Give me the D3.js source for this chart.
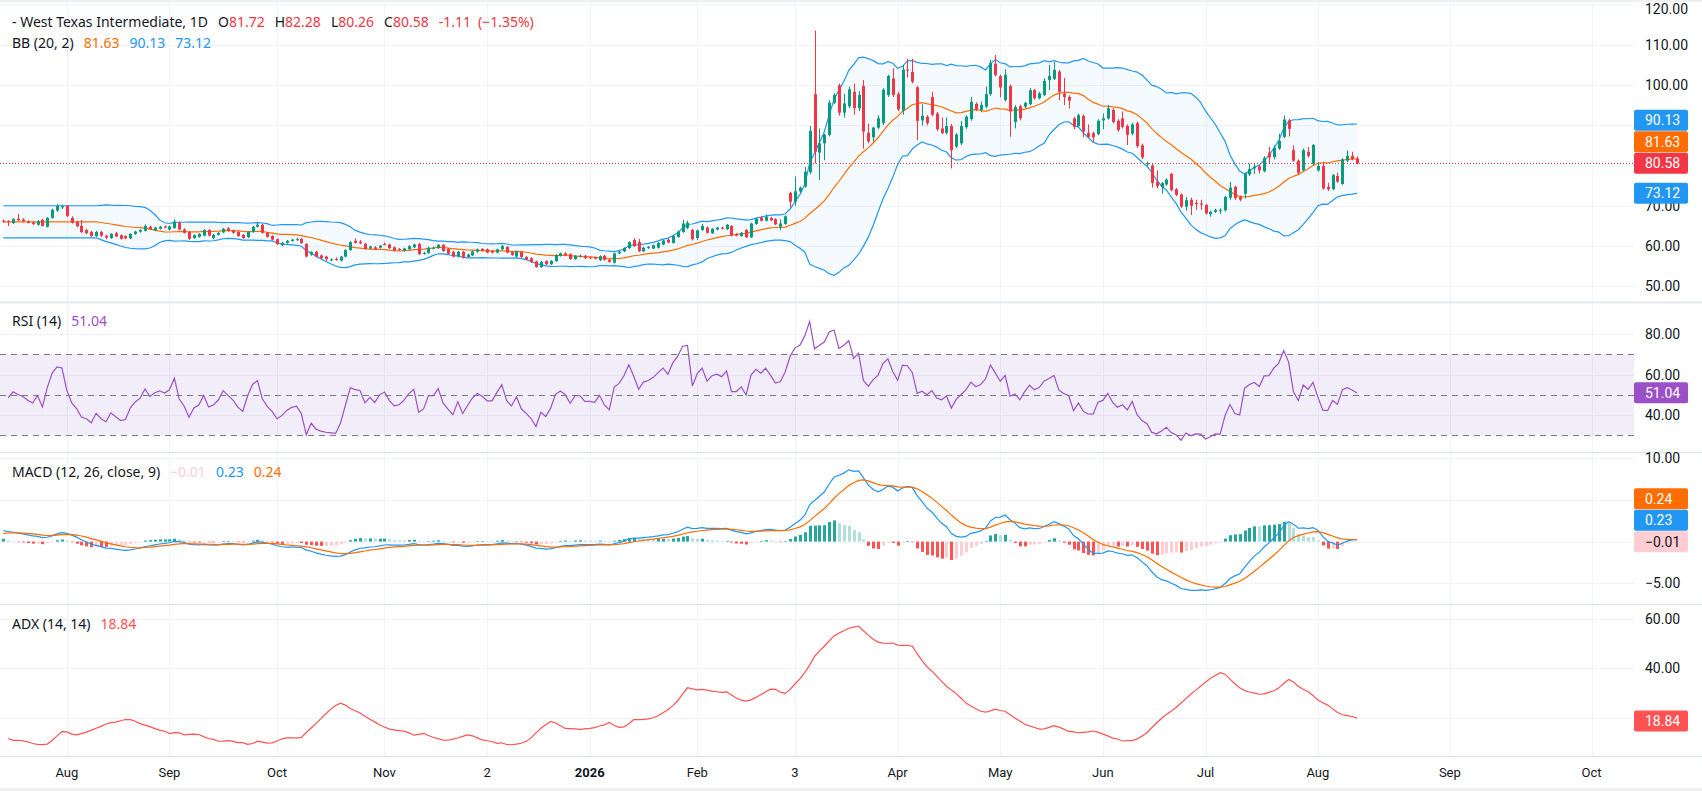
<!DOCTYPE html>
<html>
<head>
<meta charset="utf-8">
<script src="https://cdn.jsdelivr.net/npm/d3@7"></script>
<style>
  html, body { margin: 0; padding: 0; background: #fff; }
  svg { display: block; font-family: Roboto, "Noto Sans", sans-serif; }
  .legend { font-family: "Noto Sans", Roboto, sans-serif; }
</style>
</head>
<body>
<svg id="chart" width="1702" height="791"></svg>
<script>
// ---- daily bars (index 0 = first visible bar) ----
const opens = [
  66.3,66.2,65.7,66.8,66.6,66.1,65.9,65.3,66.5,64.8,
  67.0,68.8,69.6,70.0,67.0,66.0,65.0,64.0,63.5,62.5,
  63.5,62.6,62.0,63.2,62.7,62.5,61.9,63.0,63.6,63.8,
  64.8,63.9,64.3,64.9,64.1,64.5,65.8,64.1,63.5,62.0,
  62.3,62.6,64.0,62.0,62.8,63.4,64.4,63.9,63.5,62.8,
  62.2,63.5,64.8,65.3,63.3,62.5,61.7,60.2,60.8,61.3,
  61.6,61.8,60.5,57.9,58.6,57.7,57.4,56.5,56.8,56.4,
  57.4,59.0,61.3,61.1,60.6,59.4,59.7,59.6,60.5,60.4,
  59.7,59.3,58.8,59.2,59.7,60.5,58.1,58.3,59.4,59.5,
  60.3,59.3,58.6,57.4,58.6,57.3,57.7,58.6,59.3,59.2,
  58.8,58.4,59.2,59.8,58.5,57.4,58.5,57.3,57.0,56.2,
  54.8,56.3,55.5,56.3,57.6,58.2,58.0,56.8,57.4,57.6,
  57.2,57.2,56.5,57.6,56.6,55.9,58.2,58.7,59.5,61.5,
  61.0,58.7,59.5,59.4,59.6,60.4,61.6,60.8,62.3,63.5,
  64.5,64.0,62.0,64.0,64.6,63.2,64.1,64.6,64.2,65.0,
  63.0,62.5,64.0,62.2,65.5,67.1,66.3,67.0,66.7,64.8,
  65.5,73.2,71.0,73.6,74.8,78.4,97.7,83.2,85.5,87.6,
  95.6,99.9,93.1,94.7,98.3,94.2,99.7,88.1,87.0,89.4,
  90.5,97.5,101.6,97.7,93.6,103.8,103.2,99.4,91.2,92.1,
  97.0,92.9,89.2,88.1,89.8,84.7,85.5,89.5,91.5,95.3,
  93.8,94.6,97.7,105.3,102.2,96.3,99.7,90.8,94.7,94.6,
  95.2,98.7,96.7,97.5,101.2,101.5,103.3,97.8,97.0,91.7,
  89.8,92.3,88.1,88.0,87.8,91.2,91.7,93.8,91.1,91.7,
  89.8,87.9,90.5,85.0,80.3,80.0,76.0,74.6,75.3,77.9,
  74.1,72.8,69.8,71.5,70.7,70.6,70.2,67.9,68.5,68.8,
  68.9,72.0,74.7,72.2,73.0,77.8,79.3,79.8,78.6,83.2,
  82.1,84.2,87.1,91.2,83.8,81.2,78.8,83.4,80.4,78.8,
  79.9,74.7,74.1,77.4,75.4,81.2,82.4,81.72
];
const highs = [
  66.6,66.4,66.9,68.0,66.9,66.4,66.1,66.5,66.8,67.2,
  69.3,70.4,70.3,70.2,67.4,66.3,66.5,64.3,63.8,63.8,
  63.8,62.8,63.2,63.5,62.9,62.7,63.2,63.8,64.2,65.4,
  65.1,64.8,65.0,65.1,65.1,66.6,66.1,64.4,63.7,62.9,
  63.2,64.2,64.2,63.0,63.5,64.5,64.7,64.1,63.7,63.0,
  63.7,65.0,66.0,65.5,63.5,62.7,61.9,61.0,61.5,61.8,
  62.1,62.0,60.7,58.7,58.8,57.9,57.6,57.0,57.2,57.6,
  59.2,61.2,61.9,61.5,60.8,60.1,60.0,60.3,60.9,60.6,
  59.9,59.5,59.6,60.2,60.6,60.8,58.6,59.8,59.9,60.5,
  60.5,59.5,58.8,58.8,58.8,58.1,58.9,59.4,59.5,59.4,
  59.0,59.4,60.3,60.0,58.7,58.9,58.7,57.5,57.2,56.4,
  56.3,56.5,56.5,58.0,58.4,58.5,58.2,57.8,57.9,57.8,
  57.4,57.4,57.7,57.8,56.8,58.4,58.8,59.7,61.2,62.0,
  61.8,59.8,60.0,60.4,61.0,61.6,61.9,62.8,63.8,66.5,
  66.3,64.3,64.1,65.5,64.9,64.5,64.8,64.8,65.5,65.2,
  63.2,63.5,64.2,65.8,67.0,67.4,67.8,67.2,66.9,66.6,
  67.6,73.5,77.3,74.8,79.6,89.8,113.5,89.2,87.9,96.2,
  98.0,100.3,97.8,99.6,100.3,98.5,101.2,90.4,89.6,92.5,
  99.2,102.5,104.1,98.3,104.9,106.5,106.5,99.8,95.2,92.5,
  98.3,93.3,91.9,91.9,90.3,88.0,91.0,92.5,97.0,95.7,
  95.9,99.6,106.2,107.4,102.6,103.9,100.1,95.0,95.1,95.8,
  99.2,99.0,98.3,101.6,104.9,105.7,103.7,101.7,97.4,92.1,
  92.9,92.7,90.2,88.4,91.5,92.9,95.0,94.2,91.5,93.4,
  90.2,90.6,90.9,85.4,81.0,80.6,78.8,75.9,76.8,78.2,
  74.4,73.1,72.2,72.0,71.5,71.5,70.5,68.8,69.3,69.4,
  72.5,75.9,75.0,72.5,78.3,80.5,80.7,80.1,82.3,84.6,
  85.0,87.9,92.4,91.6,85.0,81.5,84.2,84.6,85.3,80.8,
  80.9,75.7,77.9,78.2,81.8,83.7,83.4,82.28
];
const lows = [
  65.8,65.0,65.5,66.2,65.9,65.6,65.2,65.1,64.9,64.6,
  66.8,68.5,69.2,67.2,65.6,64.7,63.2,62.9,62.3,62.3,
  62.3,61.7,61.8,62.2,61.6,61.7,61.7,62.8,63.3,63.6,
  64.0,63.7,64.1,64.4,63.9,64.3,63.9,63.1,61.5,61.8,
  62.1,62.4,62.4,61.7,62.6,63.2,63.6,63.1,62.3,61.8,
  62.0,63.3,64.6,63.1,62.1,61.4,60.3,60.0,60.6,61.1,
  61.3,60.6,57.2,57.6,57.2,56.8,56.2,56.3,56.4,56.2,
  57.2,58.8,60.6,60.5,59.1,59.2,59.1,59.4,60.2,59.3,
  58.7,58.8,58.6,59.0,59.5,57.8,57.9,58.1,59.2,59.3,
  58.6,57.9,57.2,57.2,56.9,57.1,57.5,58.4,58.7,58.2,
  58.2,58.2,59.0,58.2,57.6,57.2,57.1,56.5,55.8,54.6,
  54.6,55.3,55.3,56.1,57.4,57.6,56.6,56.6,57.2,56.8,
  56.8,56.7,56.3,56.4,55.9,55.7,58.0,58.5,59.3,59.8,
  58.5,58.5,59.3,59.2,59.4,60.2,60.7,60.6,62.1,63.3,
  64.2,61.4,61.5,63.8,63.1,63.0,63.9,64.1,64.0,62.4,
  62.4,62.3,62.0,62.0,65.3,66.1,66.1,66.2,65.2,64.0,
  65.3,69.5,70.0,73.2,74.5,77.8,80.5,76.4,81.3,87.2,
  95.2,92.4,91.9,94.2,92.6,93.5,84.2,85.5,85.9,89.0,
  90.0,97.0,97.0,93.5,92.6,101.8,100.4,86.3,89.9,90.0,
  92.2,88.6,87.8,87.7,79.3,84.3,85.1,89.1,91.1,93.5,
  93.2,94.2,97.3,102.1,96.9,95.9,87.1,89.2,91.2,94.2,
  94.9,96.3,96.4,97.2,98.7,101.2,96.2,95.0,94.1,89.0,
  89.5,87.0,86.8,85.6,87.5,89.0,91.4,90.4,88.4,89.2,
  85.1,87.5,84.4,81.6,79.7,74.5,74.3,73.0,75.0,73.6,
  72.4,69.5,68.8,67.7,69.0,69.0,67.8,67.3,68.2,68.0,
  68.6,71.5,71.4,71.1,71.8,77.4,77.9,78.0,78.3,80.6,
  81.5,83.9,86.8,87.2,80.9,77.7,78.5,82.0,80.0,78.5,
  74.0,73.7,73.9,75.7,75.2,80.8,81.3,80.26
];
const closes = [
  66.1,66.0,66.7,66.4,66.2,65.8,65.5,66.2,65.0,67.0,
  69.0,70.0,69.9,67.5,65.8,64.9,63.5,63.2,62.5,63.5,
  62.6,62.1,63.0,62.4,61.8,61.9,63.0,63.6,64.0,65.0,
  64.2,64.6,64.8,64.6,64.9,66.1,64.1,63.3,61.8,62.7,
  63.0,64.0,62.6,62.8,63.3,64.3,63.8,63.3,62.5,62.0,
  63.5,64.8,65.3,63.3,62.3,61.6,60.5,60.8,61.3,61.6,
  61.7,60.8,57.4,58.5,57.4,57.0,56.8,56.7,56.6,57.4,
  59.0,61.0,60.8,60.7,59.3,59.9,59.3,60.1,60.4,59.5,
  58.9,59.0,59.4,60.0,60.4,58.0,58.3,59.6,59.6,60.3,
  58.8,58.1,57.4,58.6,57.1,57.9,58.7,59.2,58.9,58.4,
  58.4,59.2,60.0,58.4,57.8,58.7,57.3,56.7,56.0,54.8,
  56.1,55.5,56.3,57.8,58.2,57.8,56.8,57.6,57.6,57.0,
  57.0,56.9,57.5,56.6,56.1,58.2,58.6,59.5,61.0,60.0,
  58.7,59.6,59.8,60.2,60.8,61.4,60.9,62.5,63.6,65.6,
  65.8,61.7,63.9,65.0,63.3,64.3,64.6,64.3,65.3,62.6,
  62.6,63.3,62.2,65.6,66.8,66.3,67.3,66.4,65.4,65.6,
  67.4,71.0,73.6,74.5,78.4,88.6,83.4,85.5,87.6,95.6,
  97.5,93.1,95.4,98.9,94.2,97.5,88.4,86.0,89.4,91.7,
  98.8,102.2,97.5,93.9,103.8,103.6,100.8,91.1,92.3,90.5,
  92.6,89.0,88.1,89.8,83.8,87.7,89.8,92.1,95.8,93.9,
  95.0,97.7,105.4,102.5,99.4,102.5,93.4,94.5,91.7,95.5,
  98.7,96.7,97.9,101.0,102.2,103.7,98.3,97.0,96.1,89.6,
  92.5,88.4,87.1,87.0,91.1,91.7,94.2,90.8,88.8,89.6,
  87.6,90.2,84.8,82.0,80.6,75.7,74.9,75.6,76.5,73.9,
  72.7,69.8,71.4,70.0,70.4,70.3,68.1,68.5,69.0,68.9,
  72.2,74.5,71.9,71.5,78.0,79.1,79.7,78.8,81.9,82.0,
  84.4,86.1,91.4,89.1,81.2,78.2,83.8,82.4,85.1,79.9,
  74.3,74.1,77.6,76.0,81.5,82.4,81.6,80.58
];

// time axis: bar index of each month label (future months continue the spacing)
const monthTicks  = [13, 34, 56, 78, 99, 120, 142, 162, 183, 204, 225, 246, 269, 296, 325];
const monthLabels = ["Aug", "Sep", "Oct", "Nov", "2", "2026", "Feb", "3", "Apr", "May", "Jun", "Jul", "Aug", "Sep", "Oct"];

// value axes
const priceTicks = [120, 110, 100, 90, 80, 70, 60, 50];
const rsiTicks = [80, 60, 40];
const rsiLevels = [70, 50, 30];
const macdTicks = [10, 5, 0, -5];
const adxTicks = [60, 40, 20];

// last values as printed in the legends
const lastOHLC = [81.72, 82.28, 80.26, 80.58];
const lastChange = ["-1.11", "(\u22121.35%)"];
const bbLast = [81.63, 90.13, 73.12];      // basis, upper, lower
const rsiLast = 51.04;
const macdLast = [-0.01, 0.23, 0.24];      // histogram, macd, signal
const adxLast = 18.84;

// ---- colours ----
const UP = '#089981', DOWN = '#F23645', TEXT = '#131722';
const BLUE = '#2196F3', ORANGE = '#FF6D00', PURPLE = '#9C50C8', ADXRED = '#FF5252';
const GRID = '#F0F3FA', SEP = '#E0E3EB';

// ---- indicators (standard definitions; the first full window stands in for missing history) ----
function bollinger(src, len, mult) {
  return src.map((_, i) => {
    const start = Math.max(0, i - len + 1);
    const win = src.slice(start, start + len);
    const m = d3.mean(win);
    const sd = Math.sqrt(d3.mean(win, v => (v - m) ** 2));
    return { mid: m, up: m + mult * sd, lo: m - mult * sd };
  });
}
function rma(src, len) {
  const vals = src.filter(v => v != null);
  let prev = d3.mean(vals.slice(0, len));
  return src.map(v => v == null ? null : (prev = (prev * (len - 1) + v) / len));
}
function ema(src, len) {
  const k = 2 / (len + 1);
  let prev = d3.mean(src.slice(0, len));
  return src.map(v => (prev = prev + k * (v - prev)));
}

const bb = bollinger(closes, 20, 2);

const gains = closes.map((c, i) => i ? Math.max(c - closes[i - 1], 0) : null);
const losses = closes.map((c, i) => i ? Math.max(closes[i - 1] - c, 0) : null);
const avgGain = rma(gains, 14), avgLoss = rma(losses, 14);
const rsi = avgGain.map((g, i) => g == null ? null : (avgLoss[i] === 0 ? 100 : 100 - 100 / (1 + g / avgLoss[i])));

const emaFast = ema(closes, 12), emaSlow = ema(closes, 26);
const macd = emaFast.map((f, i) => f - emaSlow[i]);
const signal = ema(macd, 9);
const hist = macd.map((m, i) => m - signal[i]);

const trueRange = closes.map((c, i) => i ? Math.max(highs[i] - lows[i], Math.abs(highs[i] - closes[i - 1]), Math.abs(lows[i] - closes[i - 1])) : null);
const plusDM = highs.map((h, i) => {
  if (!i) return null;
  const up = h - highs[i - 1], dn = lows[i - 1] - lows[i];
  return up > dn && up > 0 ? up : 0;
});
const minusDM = lows.map((l, i) => {
  if (!i) return null;
  const up = highs[i] - highs[i - 1], dn = lows[i - 1] - l;
  return dn > up && dn > 0 ? dn : 0;
});
const atr = rma(trueRange, 14), pdm = rma(plusDM, 14), mdm = rma(minusDM, 14);
const dx = atr.map((a, i) => {
  if (a == null) return null;
  const p = 100 * pdm[i] / a, m = 100 * mdm[i] / a;
  return p + m === 0 ? 0 : 100 * Math.abs(p - m) / (p + m);
});
const adx = rma(dx, 14);

// ---- layout ----
const W = 1702, H = 791, plotRight = 1634;
const panes = [
  { name: 'price', top: 0, bottom: 302 },
  { name: 'rsi', top: 302, bottom: 452 },
  { name: 'macd', top: 452, bottom: 604 },
  { name: 'adx', top: 604, bottom: 756 }
];

const x = d3.scaleLinear().domain([0, closes.length - 1]).range([3.3, 1357]);
const yPrice = d3.scaleLinear().domain([50, 120]).range([286.4, 4.3]);
const yRsi = d3.scaleLinear().domain([40, 80]).range([415, 334]);
const yMacd = d3.scaleLinear().domain([-5, 10]).range([583.4, 458]);
const yAdx = d3.scaleLinear().domain([20, 60]).range([718, 618.8]);

const svg = d3.select('#chart');
svg.append('rect').attr('width', W).attr('height', H).attr('fill', '#fff');

const defs = svg.append('defs');
panes.forEach(p => {
  defs.append('clipPath').attr('id', 'clip-' + p.name)
    .append('rect').attr('x', 0).attr('y', p.top).attr('width', plotRight).attr('height', p.bottom - p.top);
});
const layer = name => svg.append('g').attr('clip-path', `url(#clip-${name})`);

// vertical grid
svg.append('g').selectAll('line').data(monthTicks).join('line')
  .attr('x1', d => Math.round(x(d)) + 0.5).attr('x2', d => Math.round(x(d)) + 0.5)
  .attr('y1', 0).attr('y2', 756)
  .attr('stroke', GRID).attr('stroke-width', 1);

// horizontal grid per pane
function hGrid(scale, ticks) {
  svg.append('g').selectAll('line').data(ticks).join('line')
    .attr('x1', 0).attr('x2', plotRight)
    .attr('y1', d => Math.round(scale(d)) + 0.5).attr('y2', d => Math.round(scale(d)) + 0.5)
    .attr('stroke', GRID).attr('stroke-width', 1);
}
hGrid(yPrice, priceTicks);
hGrid(yRsi, rsiTicks);
hGrid(yMacd, macdTicks);
hGrid(yAdx, adxTicks);

// ---- price pane ----
const pricePane = layer('price');
pricePane.append('path').datum(bb)
  .attr('fill', 'rgba(33,150,243,0.05)')
  .attr('d', d3.area().x((d, i) => x(i)).y0(d => yPrice(d.lo)).y1(d => yPrice(d.up)));

const bbLine = key => d3.line().x((d, i) => x(i)).y(d => yPrice(d[key]));
pricePane.append('path').datum(bb).attr('fill', 'none').attr('stroke', BLUE).attr('stroke-width', 1.2).attr('d', bbLine('up'));
pricePane.append('path').datum(bb).attr('fill', 'none').attr('stroke', BLUE).attr('stroke-width', 1.2).attr('d', bbLine('lo'));
pricePane.append('path').datum(bb).attr('fill', 'none').attr('stroke', ORANGE).attr('stroke-width', 1.2).attr('d', bbLine('mid'));

const candles = pricePane.append('g').selectAll('g').data(closes).join('g');
candles.append('line')
  .attr('x1', (d, i) => Math.round(x(i)) + 0.5).attr('x2', (d, i) => Math.round(x(i)) + 0.5)
  .attr('y1', (d, i) => yPrice(highs[i])).attr('y2', (d, i) => yPrice(lows[i]))
  .attr('stroke', (d, i) => d >= opens[i] ? UP : DOWN).attr('stroke-width', 1);
candles.append('rect')
  .attr('x', (d, i) => Math.round(x(i)) - 1)
  .attr('width', 3)
  .attr('y', (d, i) => yPrice(Math.max(d, opens[i])))
  .attr('height', (d, i) => Math.max(1, yPrice(Math.min(d, opens[i])) - yPrice(Math.max(d, opens[i]))))
  .attr('fill', (d, i) => d >= opens[i] ? UP : DOWN);

// last price line
svg.append('line')
  .attr('x1', 0).attr('x2', plotRight)
  .attr('y1', Math.round(yPrice(lastOHLC[3])) + 0.5).attr('y2', Math.round(yPrice(lastOHLC[3])) + 0.5)
  .attr('stroke', DOWN).attr('stroke-width', 1).attr('stroke-dasharray', '1,2');

// ---- RSI pane ----
const rsiPane = layer('rsi');
rsiPane.append('rect')
  .attr('x', 0).attr('width', plotRight)
  .attr('y', yRsi(rsiLevels[0])).attr('height', yRsi(rsiLevels[2]) - yRsi(rsiLevels[0]))
  .attr('fill', 'rgba(126,87,194,0.1)');
rsiPane.append('g').selectAll('line').data(rsiLevels).join('line')
  .attr('x1', 0).attr('x2', plotRight)
  .attr('y1', d => Math.round(yRsi(d)) + 0.5).attr('y2', d => Math.round(yRsi(d)) + 0.5)
  .attr('stroke', '#787B86').attr('stroke-width', 1).attr('stroke-dasharray', '6,5');
rsiPane.append('path').datum(rsi)
  .attr('fill', 'none').attr('stroke', PURPLE).attr('stroke-width', 1.2)
  .attr('d', d3.line().defined(d => d != null).x((d, i) => x(i)).y(d => yRsi(d)));

// ---- MACD pane ----
const macdPane = layer('macd');
function histColor(h, prev) {
  if (h >= 0) return h >= prev ? '#26A69A' : '#B2DFDB';
  return h < prev ? '#FF5252' : '#FFCDD2';
}
macdPane.append('g').selectAll('rect').data(hist).join('rect')
  .attr('x', (d, i) => Math.round(x(i)) - 1)
  .attr('width', 3)
  .attr('y', d => Math.min(yMacd(d), yMacd(0)))
  .attr('height', d => Math.max(0.5, Math.abs(yMacd(d) - yMacd(0))))
  .attr('fill', (d, i) => histColor(d, i ? hist[i - 1] : d));
macdPane.append('path').datum(macd)
  .attr('fill', 'none').attr('stroke', BLUE).attr('stroke-width', 1.2)
  .attr('d', d3.line().x((d, i) => x(i)).y(d => yMacd(d)));
macdPane.append('path').datum(signal)
  .attr('fill', 'none').attr('stroke', ORANGE).attr('stroke-width', 1.2)
  .attr('d', d3.line().x((d, i) => x(i)).y(d => yMacd(d)));

// ---- ADX pane ----
const adxPane = layer('adx');
adxPane.append('path').datum(adx)
  .attr('fill', 'none').attr('stroke', ADXRED).attr('stroke-width', 1.2)
  .attr('d', d3.line().defined(d => d != null).x((d, i) => x(i)).y(d => yAdx(d)));

// ---- pane separators and frame ----
svg.append('g').selectAll('line').data([302, 452, 604, 756]).join('line')
  .attr('x1', 0).attr('x2', W).attr('y1', d => d + 0.5).attr('y2', d => d + 0.5)
  .attr('stroke', SEP).attr('stroke-width', 1.5);
svg.append('rect').attr('x', 0).attr('y', 0).attr('width', W).attr('height', 2).attr('fill', '#EEF0F4');
svg.append('rect').attr('x', 0).attr('y', 788).attr('width', W).attr('height', 3).attr('fill', '#EEF0F4');

// ---- time axis ----
svg.append('g').selectAll('text').data(monthTicks).join('text')
  .attr('x', d => x(d)).attr('y', 777)
  .attr('text-anchor', 'middle')
  .attr('font-size', 13)
  .attr('font-weight', (d, i) => monthLabels[i] === '2026' ? 700 : 400)
  .attr('fill', TEXT)
  .text((d, i) => monthLabels[i]);

// ---- value axes with stacked badges ----
function stackBadges(scale, items, h) {
  const sorted = items.slice().sort((a, b) => a.v - b.v);
  let prevY = Infinity;
  sorted.forEach(it => { it.y = Math.min(scale(it.v), prevY - h); prevY = it.y; });
  return sorted;
}
function valueAxis(scale, ticks, badges) {
  const placed = stackBadges(scale, badges, 21.5);
  const fmt = d3.format('.2f');
  const g = svg.append('g');
  g.selectAll('text.tick').data(ticks.filter(t => !placed.some(b => Math.abs(b.y - scale(t)) < 10))).join('text')
    .attr('class', 'tick')
    .attr('x', 1645).attr('y', d => Math.max(9, scale(d)))   // keep the top label inside the frame
    .attr('dominant-baseline', 'central')
    .attr('font-size', 14).attr('fill', TEXT)
    .text(d => fmt(d));
  const b = g.selectAll('g.badge').data(placed).join('g').attr('class', 'badge');
  b.append('rect')
    .attr('x', plotRight).attr('y', d => d.y - 10.5)
    .attr('width', 54).attr('height', 21).attr('rx', 2)
    .attr('fill', d => d.bg);
  b.append('text')
    .attr('x', 1645).attr('y', d => d.y)
    .attr('dominant-baseline', 'central')
    .attr('font-size', 14).attr('fill', d => d.fg || '#fff')
    .text(d => fmt(d.v));
}
valueAxis(yPrice, priceTicks, [
  { v: bbLast[1], bg: BLUE },
  { v: bbLast[0], bg: ORANGE },
  { v: lastOHLC[3], bg: DOWN },
  { v: bbLast[2], bg: BLUE }
]);
valueAxis(yRsi, rsiTicks, [{ v: rsiLast, bg: PURPLE }]);
valueAxis(yMacd, macdTicks, [
  { v: macdLast[2], bg: ORANGE },
  { v: macdLast[1], bg: BLUE },
  { v: macdLast[0], bg: '#FFCDD2', fg: TEXT }
]);
valueAxis(yAdx, adxTicks, [{ v: adxLast, bg: ADXRED }]);

// ---- legends ----
function legendRow(y, parts) {
  let cx = 12;
  const g = svg.append('g').attr('class', 'legend');
  parts.forEach(([txt, color, gap]) => {
    cx += gap || 0;
    const t = g.append('text')
      .attr('x', cx).attr('y', y)
      .attr('font-size', 14).attr('fill', color)
      .text(txt);
    cx += t.node().getComputedTextLength();
  });
}
const f2 = d3.format('.2f');
legendRow(27, [
  ['- West Texas Intermediate, 1D', TEXT, 0],
  ['O', TEXT, 10], [f2(lastOHLC[0]), DOWN, 0],
  ['H', TEXT, 10], [f2(lastOHLC[1]), DOWN, 0],
  ['L', TEXT, 10], [f2(lastOHLC[2]), DOWN, 0],
  ['C', TEXT, 10], [f2(lastOHLC[3]), DOWN, 0],
  [lastChange[0], DOWN, 10], [lastChange[1], DOWN, 7]
]);
legendRow(48, [
  ['BB (20, 2)', TEXT, 0],
  [f2(bbLast[0]), ORANGE, 10], [f2(bbLast[1]), BLUE, 10], [f2(bbLast[2]), BLUE, 10]
]);
legendRow(326, [['RSI (14)', TEXT, 0], [f2(rsiLast), PURPLE, 10]]);
legendRow(477, [
  ['MACD (12, 26, close, 9)', TEXT, 0],
  [f2(macdLast[0]), '#FFCDD2', 10], [f2(macdLast[1]), BLUE, 10], [f2(macdLast[2]), ORANGE, 10]
]);
legendRow(629, [['ADX (14, 14)', TEXT, 0], [f2(adxLast), ADXRED, 10]]);
</script>
</body>
</html>
